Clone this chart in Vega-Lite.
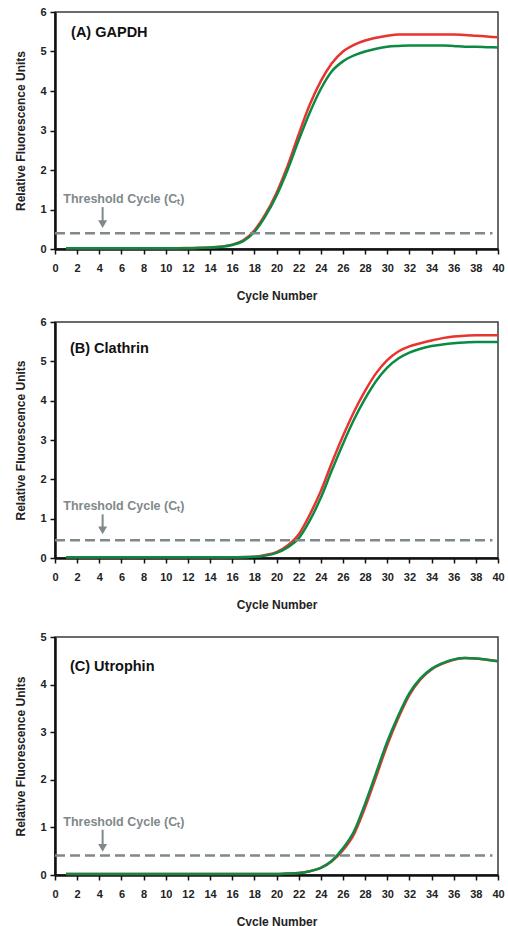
{
  "$schema": "https://vega.github.io/schema/vega-lite/v6.json",
  "padding": {"left": 14, "top": 5, "right": 0, "bottom": 0},
  "config": {
    "view": {"stroke": "#3a3a3a", "strokeWidth": 1.5},
    "axis": {"grid": false, "domainColor": "#111111", "domainWidth": 2.5, "tickColor": "#111111", "tickWidth": 1.5, "tickSize": 5, "labelFont": "Liberation Sans", "labelFontWeight": "bold", "labelFontSize": 11, "labelColor": "#222222", "titleFont": "Liberation Sans", "titleFontWeight": "bold", "titleFontSize": 12, "titleColor": "#222222", "labelOverlap": false, "labelFlush": false},
    "axisX": {"labelPadding": 8, "titlePadding": 17},
    "axisY": {"labelPadding": 4, "titlePadding": 12},
    "text": {"font": "Liberation Sans", "fontWeight": "bold"}
  },
  "datasets": {
    "qpcr": [
      {"panel":"A","cycle":1,"red":0.02,"green":0.02},{"panel":"A","cycle":2,"red":0.02,"green":0.02},{"panel":"A","cycle":3,"red":0.02,"green":0.02},{"panel":"A","cycle":4,"red":0.02,"green":0.02},{"panel":"A","cycle":5,"red":0.02,"green":0.02},{"panel":"A","cycle":6,"red":0.02,"green":0.02},{"panel":"A","cycle":7,"red":0.02,"green":0.02},{"panel":"A","cycle":8,"red":0.02,"green":0.02},{"panel":"A","cycle":9,"red":0.02,"green":0.02},{"panel":"A","cycle":10,"red":0.02,"green":0.02},
      {"panel":"A","cycle":11,"red":0.02,"green":0.02},{"panel":"A","cycle":12,"red":0.025,"green":0.02},{"panel":"A","cycle":13,"red":0.03,"green":0.025},{"panel":"A","cycle":14,"red":0.04,"green":0.035},{"panel":"A","cycle":15,"red":0.06,"green":0.055},{"panel":"A","cycle":16,"red":0.11,"green":0.1},{"panel":"A","cycle":17,"red":0.22,"green":0.2},{"panel":"A","cycle":18,"red":0.47,"green":0.43},{"panel":"A","cycle":19,"red":0.88,"green":0.83},{"panel":"A","cycle":20,"red":1.42,"green":1.35},
      {"panel":"A","cycle":21,"red":2.1,"green":2.0},{"panel":"A","cycle":22,"red":2.9,"green":2.75},{"panel":"A","cycle":23,"red":3.65,"green":3.45},{"panel":"A","cycle":24,"red":4.25,"green":4.05},{"panel":"A","cycle":25,"red":4.7,"green":4.5},{"panel":"A","cycle":26,"red":5.0,"green":4.75},{"panel":"A","cycle":27,"red":5.17,"green":4.9},{"panel":"A","cycle":28,"red":5.28,"green":5.0},{"panel":"A","cycle":29,"red":5.35,"green":5.07},{"panel":"A","cycle":30,"red":5.4,"green":5.12},
      {"panel":"A","cycle":31,"red":5.43,"green":5.14},{"panel":"A","cycle":32,"red":5.43,"green":5.15},{"panel":"A","cycle":33,"red":5.43,"green":5.15},{"panel":"A","cycle":34,"red":5.43,"green":5.15},{"panel":"A","cycle":35,"red":5.43,"green":5.15},{"panel":"A","cycle":36,"red":5.43,"green":5.14},{"panel":"A","cycle":37,"red":5.42,"green":5.12},{"panel":"A","cycle":38,"red":5.4,"green":5.12},{"panel":"A","cycle":39,"red":5.38,"green":5.11},{"panel":"A","cycle":40,"red":5.36,"green":5.1},
      {"panel":"B","cycle":1,"red":0.02,"green":0.02},{"panel":"B","cycle":2,"red":0.02,"green":0.02},{"panel":"B","cycle":3,"red":0.02,"green":0.02},{"panel":"B","cycle":4,"red":0.02,"green":0.02},{"panel":"B","cycle":5,"red":0.02,"green":0.02},{"panel":"B","cycle":6,"red":0.02,"green":0.02},{"panel":"B","cycle":7,"red":0.02,"green":0.02},{"panel":"B","cycle":8,"red":0.02,"green":0.02},{"panel":"B","cycle":9,"red":0.02,"green":0.02},{"panel":"B","cycle":10,"red":0.02,"green":0.02},
      {"panel":"B","cycle":11,"red":0.02,"green":0.02},{"panel":"B","cycle":12,"red":0.02,"green":0.02},{"panel":"B","cycle":13,"red":0.02,"green":0.02},{"panel":"B","cycle":14,"red":0.02,"green":0.02},{"panel":"B","cycle":15,"red":0.02,"green":0.02},{"panel":"B","cycle":16,"red":0.02,"green":0.02},{"panel":"B","cycle":17,"red":0.025,"green":0.02},{"panel":"B","cycle":18,"red":0.035,"green":0.03},{"panel":"B","cycle":19,"red":0.08,"green":0.06},{"panel":"B","cycle":20,"red":0.15,"green":0.13},
      {"panel":"B","cycle":21,"red":0.32,"green":0.27},{"panel":"B","cycle":22,"red":0.6,"green":0.5},{"panel":"B","cycle":23,"red":1.1,"green":0.95},{"panel":"B","cycle":24,"red":1.7,"green":1.53},{"panel":"B","cycle":25,"red":2.42,"green":2.23},{"panel":"B","cycle":26,"red":3.1,"green":2.9},{"panel":"B","cycle":27,"red":3.72,"green":3.52},{"panel":"B","cycle":28,"red":4.25,"green":4.05},{"panel":"B","cycle":29,"red":4.7,"green":4.5},{"panel":"B","cycle":30,"red":5.03,"green":4.84},
      {"panel":"B","cycle":31,"red":5.25,"green":5.07},{"panel":"B","cycle":32,"red":5.38,"green":5.22},{"panel":"B","cycle":33,"red":5.46,"green":5.32},{"panel":"B","cycle":34,"red":5.53,"green":5.39},{"panel":"B","cycle":35,"red":5.59,"green":5.43},{"panel":"B","cycle":36,"red":5.63,"green":5.46},{"panel":"B","cycle":37,"red":5.65,"green":5.48},{"panel":"B","cycle":38,"red":5.66,"green":5.49},{"panel":"B","cycle":39,"red":5.66,"green":5.49},{"panel":"B","cycle":40,"red":5.66,"green":5.49},
      {"panel":"C","cycle":1,"red":0.02,"green":0.02},{"panel":"C","cycle":2,"red":0.02,"green":0.02},{"panel":"C","cycle":3,"red":0.02,"green":0.02},{"panel":"C","cycle":4,"red":0.02,"green":0.02},{"panel":"C","cycle":5,"red":0.02,"green":0.02},{"panel":"C","cycle":6,"red":0.02,"green":0.02},{"panel":"C","cycle":7,"red":0.02,"green":0.02},{"panel":"C","cycle":8,"red":0.02,"green":0.02},{"panel":"C","cycle":9,"red":0.02,"green":0.02},{"panel":"C","cycle":10,"red":0.02,"green":0.02},
      {"panel":"C","cycle":11,"red":0.02,"green":0.02},{"panel":"C","cycle":12,"red":0.02,"green":0.02},{"panel":"C","cycle":13,"red":0.02,"green":0.02},{"panel":"C","cycle":14,"red":0.02,"green":0.02},{"panel":"C","cycle":15,"red":0.02,"green":0.02},{"panel":"C","cycle":16,"red":0.02,"green":0.02},{"panel":"C","cycle":17,"red":0.02,"green":0.02},{"panel":"C","cycle":18,"red":0.02,"green":0.02},{"panel":"C","cycle":19,"red":0.02,"green":0.02},{"panel":"C","cycle":20,"red":0.02,"green":0.02},
      {"panel":"C","cycle":21,"red":0.03,"green":0.03},{"panel":"C","cycle":22,"red":0.04,"green":0.04},{"panel":"C","cycle":23,"red":0.08,"green":0.08},{"panel":"C","cycle":24,"red":0.15,"green":0.15},{"panel":"C","cycle":25,"red":0.29,"green":0.3},{"panel":"C","cycle":26,"red":0.52,"green":0.56},{"panel":"C","cycle":27,"red":0.86,"green":0.92},{"panel":"C","cycle":28,"red":1.42,"green":1.5},{"panel":"C","cycle":29,"red":2.07,"green":2.15},{"panel":"C","cycle":30,"red":2.73,"green":2.8},
      {"panel":"C","cycle":31,"red":3.3,"green":3.35},{"panel":"C","cycle":32,"red":3.78,"green":3.82},{"panel":"C","cycle":33,"red":4.11,"green":4.13},{"panel":"C","cycle":34,"red":4.32,"green":4.33},{"panel":"C","cycle":35,"red":4.44,"green":4.45},{"panel":"C","cycle":36,"red":4.52,"green":4.53},{"panel":"C","cycle":37,"red":4.56,"green":4.56},{"panel":"C","cycle":38,"red":4.55,"green":4.55},{"panel":"C","cycle":39,"red":4.52,"green":4.52},{"panel":"C","cycle":40,"red":4.49,"green":4.49}
    ]
  },
  "spacing": 19,
  "vconcat": [
    {
      "spacing": 13,
      "vconcat": [
        {
          "width": 443, "height": 237,
          "data": {"name": "qpcr"},
          "transform": [{"filter": "datum.panel === 'A'"}],
          "encoding": {
            "x": {"field": "cycle", "type": "quantitative", "title": "Cycle Number", "scale": {"domain": [0, 40], "nice": false}, "axis": {"values": [0,2,4,6,8,10,12,14,16,18,20,22,24,26,28,30,32,34,36,38,40]}},
            "y": {"type": "quantitative", "title": "Relative Fluorescence Units", "scale": {"domain": [0, 6], "nice": false}, "axis": {"values": [0,1,2,3,4,5,6]}}
          },
          "layer": [
            {"mark": {"type": "line", "color": "#e8332e", "strokeWidth": 2.5, "interpolate": "monotone"}, "encoding": {"y": {"field": "red", "type": "quantitative"}}},
            {"mark": {"type": "line", "color": "#0b8a44", "strokeWidth": 2.5, "interpolate": "monotone"}, "encoding": {"y": {"field": "green", "type": "quantitative"}}},
            {"data": {"values": [{"x0": 0, "x1": 39.5, "t": 0.4}]}, "mark": {"type": "rule", "color": "#7f898b", "strokeWidth": 2.5, "strokeDash": [10, 5]}, "encoding": {"x": {"field": "x0", "type": "quantitative"}, "x2": {"field": "x1"}, "y": {"field": "t", "type": "quantitative"}}},
            {"data": {"values": [{"ax": 4.3, "top": 1.06, "bot": 0.7}]}, "mark": {"type": "rule", "color": "#7f898b", "strokeWidth": 2}, "encoding": {"x": {"field": "ax", "type": "quantitative"}, "y": {"field": "top", "type": "quantitative"}, "y2": {"field": "bot"}}},
            {"data": {"values": [{"ax": 4.3, "head": 0.63}]}, "mark": {"type": "point", "shape": "triangle-down", "filled": true, "size": 80, "color": "#7f898b", "opacity": 1}, "encoding": {"x": {"field": "ax", "type": "quantitative"}, "y": {"field": "head", "type": "quantitative"}}},
            {"data": {"values": [{"tx": 0.75, "ty": 1.27, "label": "Threshold Cycle (Cₜ)"}]}, "mark": {"type": "text", "align": "left", "baseline": "middle", "fontSize": 12.5, "color": "#7f898b"}, "encoding": {"x": {"field": "tx", "type": "quantitative"}, "y": {"field": "ty", "type": "quantitative"}, "text": {"field": "label"}}},
            {"data": {"values": [{"tx": 1.45, "ty": 5.47, "label": "(A) GAPDH"}]}, "mark": {"type": "text", "align": "left", "baseline": "middle", "fontSize": 14.5, "color": "#111111"}, "encoding": {"x": {"field": "tx", "type": "quantitative"}, "y": {"field": "ty", "type": "quantitative"}, "text": {"field": "label"}}}
          ]
        },
        {
          "width": 443, "height": 236,
          "data": {"name": "qpcr"},
          "transform": [{"filter": "datum.panel === 'B'"}],
          "encoding": {
            "x": {"field": "cycle", "type": "quantitative", "title": "Cycle Number", "scale": {"domain": [0, 40], "nice": false}, "axis": {"values": [0,2,4,6,8,10,12,14,16,18,20,22,24,26,28,30,32,34,36,38,40]}},
            "y": {"type": "quantitative", "title": "Relative Fluorescence Units", "scale": {"domain": [0, 6], "nice": false}, "axis": {"values": [0,1,2,3,4,5,6]}}
          },
          "layer": [
            {"mark": {"type": "line", "color": "#e8332e", "strokeWidth": 2.5, "interpolate": "monotone"}, "encoding": {"y": {"field": "red", "type": "quantitative"}}},
            {"mark": {"type": "line", "color": "#0b8a44", "strokeWidth": 2.5, "interpolate": "monotone"}, "encoding": {"y": {"field": "green", "type": "quantitative"}}},
            {"data": {"values": [{"x0": 0, "x1": 39.5, "t": 0.45}]}, "mark": {"type": "rule", "color": "#7f898b", "strokeWidth": 2.5, "strokeDash": [10, 5]}, "encoding": {"x": {"field": "x0", "type": "quantitative"}, "x2": {"field": "x1"}, "y": {"field": "t", "type": "quantitative"}}},
            {"data": {"values": [{"ax": 4.3, "top": 1.11, "bot": 0.78}]}, "mark": {"type": "rule", "color": "#7f898b", "strokeWidth": 2}, "encoding": {"x": {"field": "ax", "type": "quantitative"}, "y": {"field": "top", "type": "quantitative"}, "y2": {"field": "bot"}}},
            {"data": {"values": [{"ax": 4.3, "head": 0.7}]}, "mark": {"type": "point", "shape": "triangle-down", "filled": true, "size": 80, "color": "#7f898b", "opacity": 1}, "encoding": {"x": {"field": "ax", "type": "quantitative"}, "y": {"field": "head", "type": "quantitative"}}},
            {"data": {"values": [{"tx": 0.75, "ty": 1.33, "label": "Threshold Cycle (Cₜ)"}]}, "mark": {"type": "text", "align": "left", "baseline": "middle", "fontSize": 12.5, "color": "#7f898b"}, "encoding": {"x": {"field": "tx", "type": "quantitative"}, "y": {"field": "ty", "type": "quantitative"}, "text": {"field": "label"}}},
            {"data": {"values": [{"tx": 1.35, "ty": 5.32, "label": "(B) Clathrin"}]}, "mark": {"type": "text", "align": "left", "baseline": "middle", "fontSize": 14.5, "color": "#111111"}, "encoding": {"x": {"field": "tx", "type": "quantitative"}, "y": {"field": "ty", "type": "quantitative"}, "text": {"field": "label"}}}
          ]
        }
      ]
    },
    {
      "width": 443, "height": 238,
      "data": {"name": "qpcr"},
      "transform": [{"filter": "datum.panel === 'C'"}],
      "encoding": {
        "x": {"field": "cycle", "type": "quantitative", "title": "Cycle Number", "scale": {"domain": [0, 40], "nice": false}, "axis": {"values": [0,2,4,6,8,10,12,14,16,18,20,22,24,26,28,30,32,34,36,38,40]}},
        "y": {"type": "quantitative", "title": "Relative Fluorescence Units", "scale": {"domain": [0, 5], "nice": false}, "axis": {"values": [0,1,2,3,4,5]}}
      },
      "layer": [
        {"mark": {"type": "line", "color": "#e8332e", "strokeWidth": 2.5, "interpolate": "monotone"}, "encoding": {"y": {"field": "red", "type": "quantitative"}}},
        {"mark": {"type": "line", "color": "#0b8a44", "strokeWidth": 2.5, "interpolate": "monotone"}, "encoding": {"y": {"field": "green", "type": "quantitative"}}},
        {"data": {"values": [{"x0": 0, "x1": 39.5, "t": 0.41}]}, "mark": {"type": "rule", "color": "#7f898b", "strokeWidth": 2.5, "strokeDash": [10, 5]}, "encoding": {"x": {"field": "x0", "type": "quantitative"}, "x2": {"field": "x1"}, "y": {"field": "t", "type": "quantitative"}}},
        {"data": {"values": [{"ax": 4.3, "top": 0.95, "bot": 0.65}]}, "mark": {"type": "rule", "color": "#7f898b", "strokeWidth": 2}, "encoding": {"x": {"field": "ax", "type": "quantitative"}, "y": {"field": "top", "type": "quantitative"}, "y2": {"field": "bot"}}},
        {"data": {"values": [{"ax": 4.3, "head": 0.57}]}, "mark": {"type": "point", "shape": "triangle-down", "filled": true, "size": 80, "color": "#7f898b", "opacity": 1}, "encoding": {"x": {"field": "ax", "type": "quantitative"}, "y": {"field": "head", "type": "quantitative"}}},
        {"data": {"values": [{"tx": 0.75, "ty": 1.12, "label": "Threshold Cycle (Cₜ)"}]}, "mark": {"type": "text", "align": "left", "baseline": "middle", "fontSize": 12.5, "color": "#7f898b"}, "encoding": {"x": {"field": "tx", "type": "quantitative"}, "y": {"field": "ty", "type": "quantitative"}, "text": {"field": "label"}}},
        {"data": {"values": [{"tx": 1.35, "ty": 4.36, "label": "(C) Utrophin"}]}, "mark": {"type": "text", "align": "left", "baseline": "middle", "fontSize": 14.5, "color": "#111111"}, "encoding": {"x": {"field": "tx", "type": "quantitative"}, "y": {"field": "ty", "type": "quantitative"}, "text": {"field": "label"}}}
      ]
    }
  ]
}
